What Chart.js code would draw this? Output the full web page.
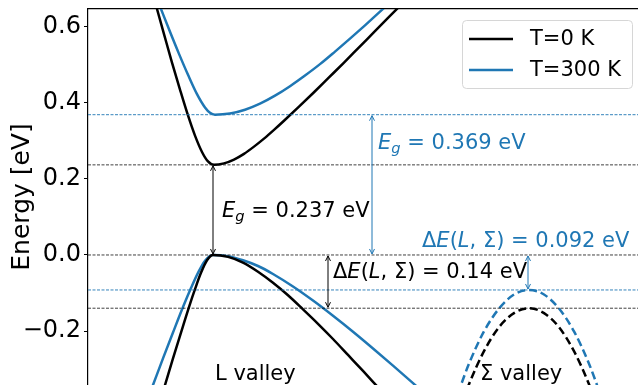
<!DOCTYPE html>
<html lang="en">
<head>
    <meta charset="UTF-8">
    <title>L and Sigma valleys</title>
    <script src="https://cdn.jsdelivr.net/npm/chart.js"></script>
    <style>
        body { margin: 0; background: #fff; }
        #wrap { width: 638px; height: 385px; }
    </style>
</head>
<body>
    <div id="wrap"><canvas id="grafico" width="638" height="385"></canvas></div>

    <script>
        // energy axis
        const yTicks = [-0.2, 0, 0.2, 0.4, 0.6];
        const yTickLabels = ['\u22120.2', '0.0', '0.2', '0.4', '0.6'];

        const seriesLabels = ['T=0 K', 'T=300 K'];
        const seriesColors = ['#000000', '#1f77b4'];
        const gapL = [0.237, 0.369];        // E_g for each T
        const gapSigma = [0.14, 0.092];     // ΔE(L, Σ) for each T

        // L valley, conduction band (k in arbitrary units, E in eV)
        const kCond0 = [0.65, 0.69, 0.76, 0.84, 0.92, 1.00, 1.07, 1.14, 1.20, 1.26, 1.36, 1.46, 1.56, 1.66, 1.76, 1.86, 1.96, 2.11, 2.26, 2.41, 2.56, 2.71, 2.86, 3.01, 3.16];
        const eCond0 = [0.685, 0.647, 0.581, 0.506, 0.435, 0.367, 0.314, 0.271, 0.246, 0.237, 0.241, 0.251, 0.266, 0.285, 0.306, 0.329, 0.353, 0.390, 0.428, 0.467, 0.506, 0.546, 0.586, 0.626, 0.666];
        const kCond300 = [0.67, 0.73, 0.82, 0.91, 1.00, 1.09, 1.17, 1.22, 1.27, 1.42, 1.57, 1.72, 1.87, 2.02, 2.17, 2.32, 2.47, 2.62, 2.77, 2.92, 3.07];
        const eCond300 = [0.687, 0.647, 0.587, 0.529, 0.474, 0.423, 0.388, 0.374, 0.369, 0.372, 0.382, 0.398, 0.419, 0.444, 0.472, 0.502, 0.535, 0.569, 0.604, 0.640, 0.677];

        // L valley, valence band
        const kVal0 = [0.72, 0.77, 0.85, 0.93, 1.01, 1.07, 1.13, 1.19, 1.25, 1.40, 1.55, 1.70, 1.85, 2.00, 2.15, 2.30, 2.45, 2.60, 2.75, 2.90, 3.05];
        const eVal0 = [-0.386, -0.342, -0.272, -0.204, -0.137, -0.090, -0.047, -0.014, 0, -0.005, -0.020, -0.044, -0.073, -0.106, -0.143, -0.181, -0.221, -0.263, -0.305, -0.348, -0.391];
        const kVal300 = [0.59, 0.65, 0.75, 0.85, 0.95, 1.03, 1.10, 1.17, 1.25, 1.40, 1.55, 1.70, 1.85, 2.05, 2.25, 2.45, 2.65, 2.85, 3.05, 3.25, 3.45];
        const eVal300 = [-0.384, -0.342, -0.272, -0.204, -0.137, -0.087, -0.047, -0.015, 0, -0.003, -0.014, -0.029, -0.050, -0.083, -0.120, -0.160, -0.202, -0.246, -0.291, -0.337, -0.384];

        // Sigma valley (dashed)
        const kSig0 = [3.75, 3.81, 3.96, 4.11, 4.26, 4.41, 4.56, 4.71, 4.86, 5.01, 5.07];
        const eSig0 = [-0.384, -0.34, -0.253, -0.19, -0.153, -0.14, -0.153, -0.19, -0.253, -0.34, -0.384];
        const kSig300 = [3.66, 3.71, 3.81, 3.96, 4.11, 4.26, 4.41, 4.56, 4.71, 4.86, 5.01, 5.11, 5.16];
        const eSig300 = [-0.396, -0.357, -0.286, -0.201, -0.141, -0.104, -0.092, -0.104, -0.141, -0.201, -0.286, -0.357, -0.396];

        const FONT = '"DejaVu Sans", sans-serif';

        function pontos(ks, es) {
            return ks.map((k, i) => ({ x: k, y: es[i] }));
        }

        function curva(ks, es, cor, tracejado) {
            return {
                data: pontos(ks, es),
                borderColor: cor,
                borderWidth: 2.5,
                borderDash: tracejado ? [8, 4] : [],
                cubicInterpolationMode: 'monotone',
                pointRadius: 0,
                clip: 0
            };
        }

        function nivel(e, cor) {
            return {
                data: [{ x: 0, y: e }, { x: 5.5, y: e }],
                borderColor: cor,
                borderWidth: 1,
                borderDash: [3, 1.5],
                pointRadius: 0,
                clip: 0
            };
        }

        const datasets = [
            nivel(gapL[0], 'rgba(0,0,0,0.75)'),
            nivel(gapL[1], 'rgba(31,119,180,0.9)'),
            nivel(0, 'rgba(0,0,0,0.75)'),
            nivel(-gapSigma[0], 'rgba(0,0,0,0.75)'),
            nivel(-gapSigma[1], 'rgba(31,119,180,0.9)'),
            curva(kCond0, eCond0, seriesColors[0], false),
            curva(kVal0, eVal0, seriesColors[0], false),
            curva(kSig0, eSig0, seriesColors[0], true),
            curva(kCond300, eCond300, seriesColors[1], false),
            curva(kVal300, eVal300, seriesColors[1], false),
            curva(kSig300, eSig300, seriesColors[1], true)
        ];

        function seta(ctx, px, y1, y2, cor) {
            ctx.save();
            ctx.strokeStyle = cor;
            ctx.lineWidth = 1;
            ctx.beginPath();
            ctx.moveTo(px, y1 + 1);
            ctx.lineTo(px, y2 - 1);
            ctx.stroke();
            ctx.beginPath();
            ctx.moveTo(px - 2.5, y1 + 6); ctx.lineTo(px, y1 + 1); ctx.lineTo(px + 2.5, y1 + 6);
            ctx.moveTo(px - 2.5, y2 - 6); ctx.lineTo(px, y2 - 1); ctx.lineTo(px + 2.5, y2 - 6);
            ctx.stroke();
            ctx.restore();
        }

        // pieces: [text, 'i' italic | 'sub' subscript | '' upright]
        function textoMat(ctx, partes, x0, base, size, cor) {
            let x = x0;
            ctx.save();
            ctx.fillStyle = cor;
            ctx.textBaseline = 'alphabetic';
            ctx.textAlign = 'left';
            partes.forEach(([t, tipo]) => {
                let fs = size, dy = 0, estilo = '';
                if (tipo === 'i') estilo = 'italic ';
                if (tipo === 'sub') { estilo = 'italic '; fs = size * 0.7; dy = size * 0.2; }
                ctx.font = `${estilo}${fs}px ${FONT}`;
                ctx.fillText(t, x, base + dy);
                x += ctx.measureText(t).width;
            });
            ctx.restore();
        }

        function rotuloEg(v) {
            return [['E', 'i'], ['g', 'sub'], [' = ' + v.toFixed(3) + ' eV', '']];
        }

        function rotuloDelta(v) {
            return [['\u0394', ''], ['E', 'i'], ['(', ''], ['L', 'i'], [', \u03a3) = ' + v + ' eV', '']];
        }

        const anotacoes = {
            id: 'anotacoes',
            afterDatasetsDraw(chart) {
                const { ctx, scales: { x, y } } = chart;
                const px = v => x.getPixelForValue(v);
                const py = v => y.getPixelForValue(v);

                seta(ctx, px(1.25), py(gapL[0]), py(0), seriesColors[0]);
                seta(ctx, px(2.84), py(gapL[1]), py(0), seriesColors[1]);
                seta(ctx, px(2.40), py(0), py(-gapSigma[0]), seriesColors[0]);
                seta(ctx, px(4.40), py(0), py(-gapSigma[1]), seriesColors[1]);

                textoMat(ctx, rotuloEg(gapL[0]), px(1.34), py(0.100), 21, seriesColors[0]);
                textoMat(ctx, rotuloEg(gapL[1]), px(2.90), py(0.279), 21, seriesColors[1]);
                textoMat(ctx, rotuloDelta(gapSigma[0]), px(2.45), py(-0.061), 21, seriesColors[0]);
                textoMat(ctx, rotuloDelta(gapSigma[1]), px(3.34), py(0.021), 21, seriesColors[1]);
                textoMat(ctx, [['L valley', '']], px(1.27), py(-0.329), 21, '#000');
                textoMat(ctx, [['\u03a3 valley', '']], px(3.92), py(-0.329), 21, '#000');
            }
        };

        const legenda = {
            id: 'legenda',
            afterDraw(chart) {
                const ctx = chart.ctx;
                ctx.save();
                ctx.beginPath();
                ctx.roundRect(462.5, 20.5, 170, 68, 4);
                ctx.fillStyle = 'rgba(255,255,255,0.8)';
                ctx.fill();
                ctx.strokeStyle = '#d6d6d6';
                ctx.lineWidth = 1;
                ctx.stroke();
                ctx.font = `21px ${FONT}`;
                ctx.textBaseline = 'middle';
                seriesLabels.forEach((lab, i) => {
                    const yy = 39 + i * 31;
                    ctx.strokeStyle = seriesColors[i];
                    ctx.lineWidth = 2.5;
                    ctx.beginPath();
                    ctx.moveTo(469, yy);
                    ctx.lineTo(513, yy);
                    ctx.stroke();
                    ctx.fillStyle = '#000';
                    ctx.fillText(lab, 530, yy + 1);
                });
                ctx.restore();
            }
        };

        new Chart(document.getElementById('grafico'), {
            type: 'line',
            data: { datasets: datasets },
            options: {
                responsive: false,
                animation: false,
                layout: { padding: { top: 9, left: 0, right: 0, bottom: 0 } },
                plugins: { legend: { display: false }, tooltip: { enabled: false } },
                scales: {
                    x: { type: 'linear', min: 0, max: 5.5, display: false },
                    x2: {
                        type: 'linear', position: 'top', min: 0, max: 1,
                        ticks: { display: false },
                        grid: { display: false },
                        border: { display: true, color: '#000', width: 1.2 },
                        afterFit(s) { s.height = 0; }
                    },
                    y: {
                        min: -0.342,
                        max: 0.647,
                        afterBuildTicks(s) { s.ticks = yTicks.map(v => ({ value: v })); },
                        ticks: {
                            color: '#000',
                            padding: 3,
                            font: { family: FONT, size: 24 },
                            callback: v => yTickLabels[yTicks.findIndex(t => Math.abs(t - v) < 1e-9)]
                        },
                        grid: { display: true, drawOnChartArea: false, drawTicks: true, tickLength: 4, color: '#000', lineWidth: 1 },
                        border: { display: true, color: '#000', width: 1.2 },
                        title: {
                            display: true,
                            text: 'Energy [eV]',
                            color: '#000',
                            font: { family: FONT, size: 25 },
                            padding: { top: 7, bottom: 0 }
                        },
                        afterFit(s) { s.width = 88; s.paddingTop = 0; s.paddingBottom = 0; }
                    }
                }
            },
            plugins: [anotacoes, legenda]
        });
    </script>
</body>
</html>
